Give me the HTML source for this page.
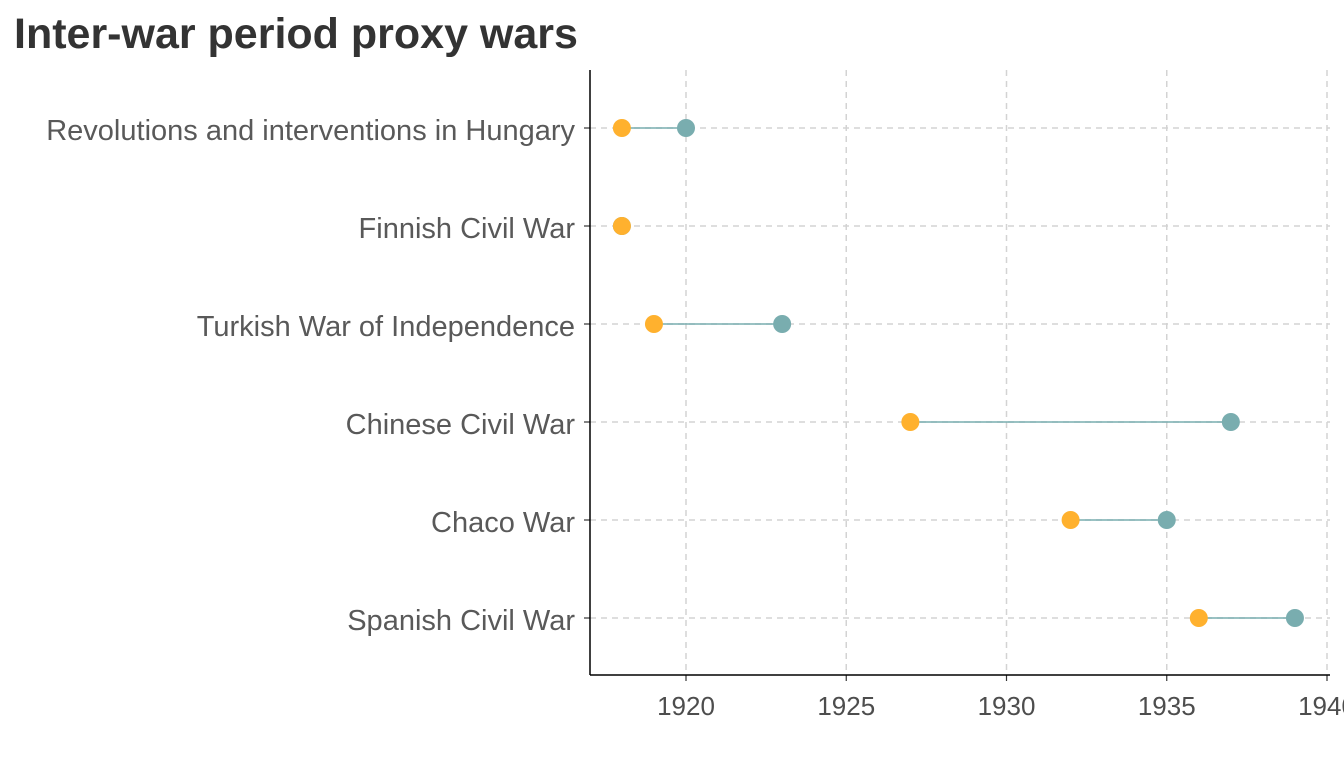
<!DOCTYPE html>
<html><head><meta charset="utf-8">
<style>
html,body{margin:0;padding:0;background:#fff;}
svg{display:block;font-family:"Liberation Sans",Arial,sans-serif;}
</style></head>
<body>
<svg id="chart" width="1344" height="768" viewBox="0 0 1344 768">
<text x="14" y="48" font-size="43" font-weight="bold" fill="#333333">Inter-war period proxy wars</text>
<g id="grid"></g>
<g id="axes"></g>
<g id="marks"></g>
</svg>
<script>
const categories = ["Revolutions and interventions in Hungary","Finnish Civil War","Turkish War of Independence","Chinese Civil War","Chaco War","Spanish Civil War"];
const startYears = [1918,1918,1919,1927,1932,1936];
const endYears = [1920,1918,1923,1937,1935,1939];
const tickValues = [1920,1925,1930,1935,1940];
const tickLabels = ["1920","1925","1930","1935","1940"];

const NS="http://www.w3.org/2000/svg";
const px0=590, px1=1330, py0=70, py1=675;
function xScale(v){ return 686 + (v-1920)*(1327-686)/20; }
function yScale(i){ return 128 + i*98; }
function mk(tag, attrs, parent){
  const e=document.createElementNS(NS,tag);
  for(const k in attrs) e.setAttribute(k, attrs[k]);
  parent.appendChild(e); return e;
}
const grid=document.getElementById('grid'), axes=document.getElementById('axes'), marks=document.getElementById('marks');

tickValues.forEach((t,i)=>{
  const x=xScale(t);
  const g=mk('line',{x1:x,x2:x,y1:py0,y2:py1,stroke:"#d3d3d3","stroke-width":1.5,"stroke-dasharray":"6,5"},grid);
  
  
  const tk=mk('line',{x1:x,x2:x,y1:py1,y2:py1+6,stroke:"#333","stroke-width":1.2},axes);
  
  
  const tl=mk('text',{x:x,y:715,"font-size":26,fill:"#4d4d4d","text-anchor":"middle"},axes);
  tl.textContent=tickLabels[i];
  
  
});
categories.forEach((c,i)=>{
  const y=yScale(i);
  const g=mk('line',{x1:px0,x2:px1,y1:y,y2:y,stroke:"#d3d3d3","stroke-width":1.5,"stroke-dasharray":"6,5"},grid);
  
  
  const tk=mk('line',{x1:px0-6,x2:px0,y1:y,y2:y,stroke:"#333","stroke-width":1.2},axes);
  
  
  const tl=mk('text',{x:575,y:y+12,"font-size":29,fill:"#595959","text-anchor":"end"},axes);
  tl.textContent=c;
  
  
});
const ya=mk('line',{x1:px0,x2:px0,y1:py0,y2:py1,stroke:"#000","stroke-width":1.5},axes);


const xa=mk('line',{x1:px0,x2:px1,y1:py1,y2:py1,stroke:"#000","stroke-width":1.5},axes);



categories.forEach((c,i)=>{
  const y=yScale(i);
  const seg=mk('line',{x1:xScale(startYears[i]),x2:xScale(endYears[i]),y1:y,y2:y,stroke:"#79adaf","stroke-width":1.5},marks);
  
  
  const e=mk('circle',{cx:xScale(endYears[i]),cy:y,r:9,fill:"#79adaf"},marks);
  
  
  const s=mk('circle',{cx:xScale(startYears[i]),cy:y,r:9,fill:"#ffb12e"},marks);
  
  
});
</script>
</body></html>
